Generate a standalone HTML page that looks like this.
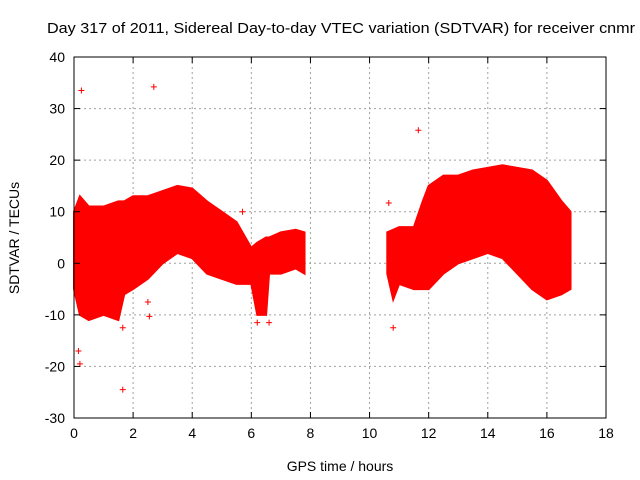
<!DOCTYPE html>
<html><head><meta charset="utf-8"><style>
body{margin:0;background:#fff;}
svg{display:block;font-family:"Liberation Sans",sans-serif;}
</style></head><body>
<svg id="chart" width="640" height="480">
<rect width="640" height="480" fill="#fff"/>
<text x="47" y="33" font-size="15" textLength="588" lengthAdjust="spacingAndGlyphs" fill="#000">Day 317 of 2011, Sidereal Day-to-day VTEC variation (SDTVAR) for receiver cnmr</text>
<g id="grid"></g>
<g id="series"></g>
<g id="axes"></g>
<text x="340" y="471" font-size="14" text-anchor="middle">GPS time / hours</text>
<text transform="translate(19,238) rotate(-90)" font-size="14" text-anchor="middle">SDTVAR / TECUs</text>
</svg>
<script>
const xTicks=[0,2,4,6,8,10,12,14,16,18];
const yTicks=[-30,-20,-10,0,10,20,30,40];
const seg1T=[0,0.2,0.5,1,1.5,1.7,2,2.5,3,3.5,4,4.5,5,5.5,6,6.2,6.5,6.6,7,7.5,7.8];
const seg1Hi=[10,13,11,11,12,12,13,13,14,15,14.5,12,10,8,3,4,5,5,6,6.5,6];
const seg1Lo=[-5,-10,-11,-10,-11,-6,-5,-3,0,2,1,-2,-3,-4,-4,-10,-10,-2,-2,-1,-2];
const seg2T=[10.6,10.8,11,11.5,11.8,12,12.5,13,13.5,14,14.5,15,15.5,16,16.5,16.8];
const seg2Hi=[6,6.5,7,7,12,15,17,17,18,18.5,19,18.5,18,16,12,10];
const seg2Lo=[-2,-7,-4,-5,-5,-5,-2,0,1,2,1,-2,-5,-7,-6,-5];
const outT=[0.25,2.7,11.65,10.65,10.8,1.65,0.2,1.65,2.55,2.5,6.6,6.2,0.15,5.7];
const outV=[33.5,34.2,25.8,11.7,-12.5,-24.5,-19.5,-12.5,-10.3,-7.5,-11.5,-11.5,-17,10];
const X0=74,X1=606,Y0=418,Y1=57;
const sx=t=>X0+(t-0)/(18-0)*(X1-X0);
const sy=v=>Y0-(v+30)/(70)*(Y0-Y1);
const NS="http://www.w3.org/2000/svg";
function mk(tag,attrs,parent){const e=document.createElementNS(NS,tag);for(const k in attrs)e.setAttribute(k,attrs[k]);parent.appendChild(e);return e;}
const grid=document.getElementById('grid'),axes=document.getElementById('axes'),ser=document.getElementById('series');
xTicks.forEach(t=>{const x=sx(t);
 if(t>0&&t<18){const l=mk('line',{x1:x,x2:x,y1:Y1,y2:Y0,stroke:'#a0a0a0','stroke-dasharray':'2,3'},grid);}
 mk('line',{x1:x,x2:x,y1:Y0,y2:Y0-6,stroke:'#000'},axes);mk('line',{x1:x,x2:x,y1:Y1,y2:Y1+6,stroke:'#000'},axes);
 const tx=mk('text',{x:x,y:Y0+20,'font-size':14,'text-anchor':'middle'},axes);tx.textContent=t;
 });
yTicks.forEach(v=>{const y=sy(v);
 if(v>-30&&v<40){const l=mk('line',{x1:X0,x2:X1,y1:y,y2:y,stroke:'#a0a0a0','stroke-dasharray':'2,3'},grid);}
 mk('line',{x1:X0,x2:X0+6,y1:y,y2:y,stroke:'#000'},axes);mk('line',{x1:X1,x2:X1-6,y1:y,y2:y,stroke:'#000'},axes);
 const tx=mk('text',{x:X0-9,y:y+5,'font-size':14,'text-anchor':'end'},axes);tx.textContent=v;
 });
const fr=mk('rect',{x:X0,y:Y1,width:X1-X0,height:Y0-Y1,fill:'none',stroke:'#000'},axes);

function band(T,H,L,name){let p=T.map((t,i)=>sx(t)+','+sy(H[i]));for(let i=T.length-1;i>=0;i--)p.push(sx(T[i])+','+sy(L[i]));
 const e=mk('polygon',{points:p.join(' '),fill:'#ff0000',stroke:'#ff0000','stroke-width':2},ser);
 }
band(seg1T,seg1Hi,seg1Lo,'data-band-morning');
band(seg2T,seg2Hi,seg2Lo,'data-band-afternoon');
outT.forEach((t,i)=>{const x=sx(t),y=sy(outV[i]);
 const p=mk('path',{d:`M${x-3},${y}h6M${x},${y-3}v6`,stroke:'#ff0000','stroke-width':1},ser);
 });
</script>
</body></html>
